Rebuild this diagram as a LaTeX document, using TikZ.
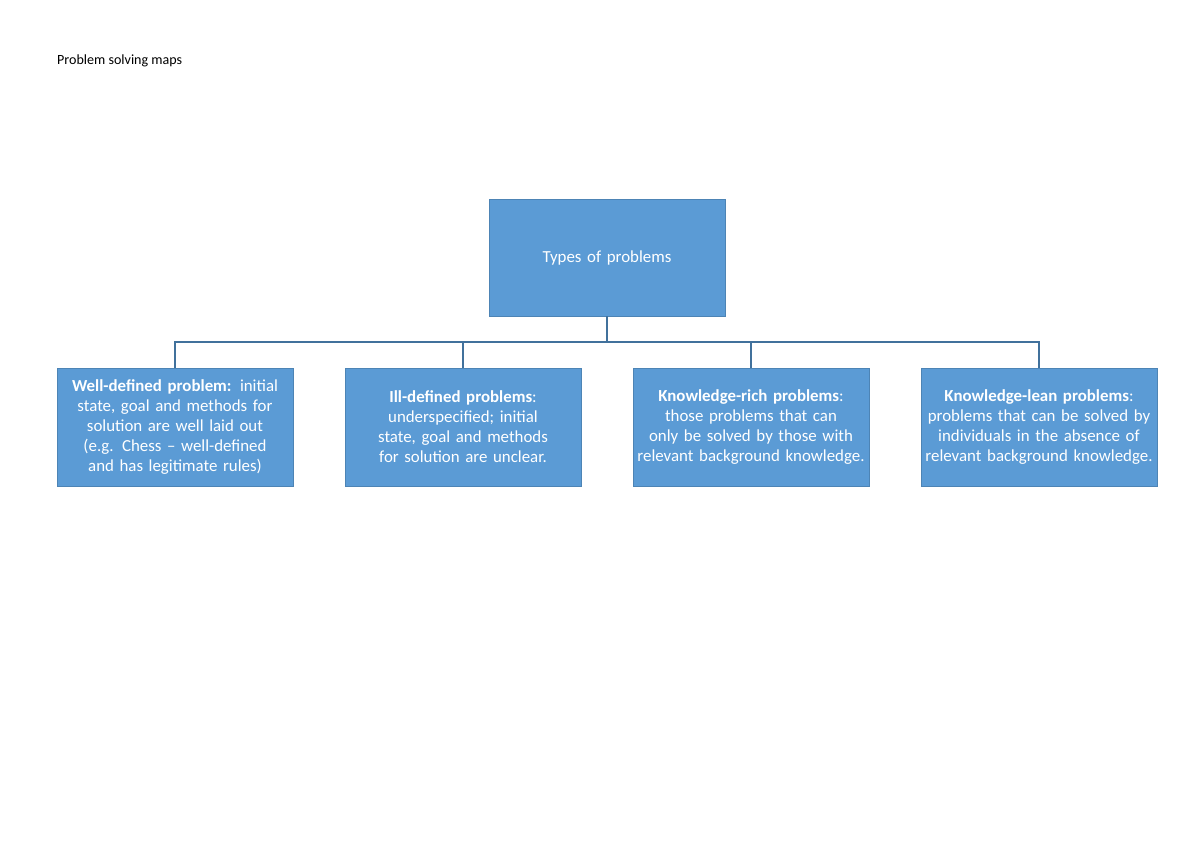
\documentclass[tikz,border=0pt]{standalone}
\usepackage{fontspec}
\setmainfont{Carlito}
\definecolor{boxblue}{HTML}{5B9BD5}
\definecolor{linec}{HTML}{41719C}
\begin{document}
\begin{tikzpicture}[x=0.02cm,y=-0.02cm,
  bx/.style={fill=boxblue,draw=boxblue!85!black,line width=0.4pt,minimum width=4.72cm,minimum height=2.36cm,text width=4.6cm,align=center,text=white,font=\fontsize{9.6}{11.4}\selectfont,inner sep=1pt},
  conn/.style={draw=linec,line width=0.8pt}]
\useasboundingbox[fill=white] (0,0) rectangle (1200,849);
\node[anchor=west,font=\fontsize{8}{10}\selectfont] (title) at (51,61) {Problem solving maps};
\node[bx,minimum height=2.34cm] (top) at (607,257.5) {Types of problems};
\node[bx] (a) at (175,427) {\textbf{Well-defined problem:} initial state, goal and methods for solution are well laid out (e.g. Chess – well-defined and has legitimate rules)};
\node[bx] (b) at (463,427) {\textbf{Ill-defined problems}:\\ underspecified; initial state, goal and methods for solution are unclear.};
\node[bx] (c) at (751,427) {\textbf{Knowledge-rich problems}: those problems that can only be solved by those with relevant background knowledge.};
\node[bx] (d) at (1039,427) {\textbf{Knowledge-lean problems}: problems that can be solved by individuals in the absence of relevant background knowledge.};
\coordinate (bus) at (607,342);
\draw[conn] (top.south) -- (bus);
\foreach \n in {a,b,c,d}{\draw[conn] (bus) -| (\n.north);}
\end{tikzpicture}
\end{document}
